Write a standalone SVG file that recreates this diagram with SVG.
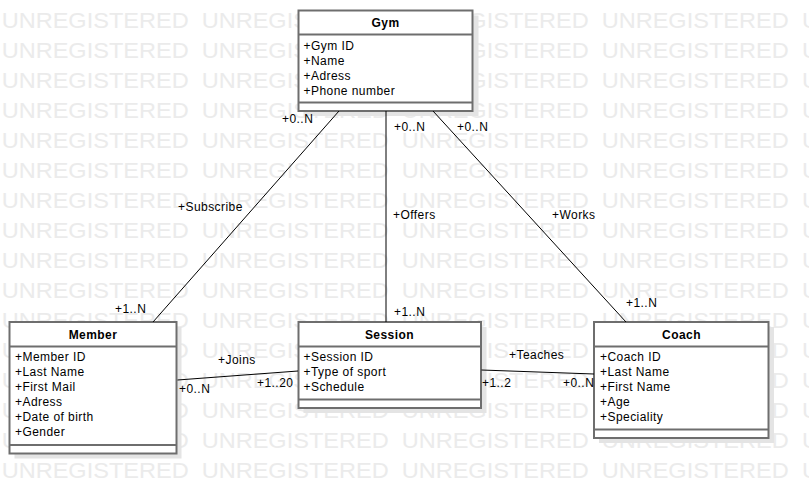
<svg xmlns="http://www.w3.org/2000/svg" xmlns:xlink="http://www.w3.org/1999/xlink" width="809" height="494" viewBox="0 0 809 494">
<style>
.wm{font-family:"Liberation Sans",Arial,sans-serif;font-size:21.5px;fill:#ebebeb}
.t{font-family:"Liberation Sans",Arial,sans-serif;font-size:12px;letter-spacing:0.45px;fill:#000}
.b{font-weight:bold;text-anchor:middle}
.box{fill:#fff;stroke:#6e6e6e;stroke-width:2}
.sh{fill:#e4e4e4}
.div{stroke:#6e6e6e;stroke-width:2}
.con{stroke:#000;stroke-width:1;fill:none}
</style>
<defs>
<text id="wmrow" class="wm" y="28"><tspan x="1.7" textLength="187" lengthAdjust="spacingAndGlyphs">UNREGISTERED</tspan><tspan x="201.7" textLength="187" lengthAdjust="spacingAndGlyphs">UNREGISTERED</tspan><tspan x="401.7" textLength="187" lengthAdjust="spacingAndGlyphs">UNREGISTERED</tspan><tspan x="601.7" textLength="187" lengthAdjust="spacingAndGlyphs">UNREGISTERED</tspan><tspan x="802" textLength="187" lengthAdjust="spacingAndGlyphs">UNREGISTERED</tspan></text>
</defs>
<rect width="809" height="494" fill="#fff"/>
<g id="watermark">
<use xlink:href="#wmrow" y="0"/><use xlink:href="#wmrow" y="30"/><use xlink:href="#wmrow" y="60"/><use xlink:href="#wmrow" y="90"/>
<use xlink:href="#wmrow" y="120"/><use xlink:href="#wmrow" y="150"/><use xlink:href="#wmrow" y="180"/><use xlink:href="#wmrow" y="210"/>
<use xlink:href="#wmrow" y="240"/><use xlink:href="#wmrow" y="270"/><use xlink:href="#wmrow" y="300"/><use xlink:href="#wmrow" y="330"/>
<use xlink:href="#wmrow" y="360"/><use xlink:href="#wmrow" y="390"/><use xlink:href="#wmrow" y="420"/><use xlink:href="#wmrow" y="450"/>
</g>
<g id="gym">
<rect class="sh" x="303.5" y="15.5" width="175" height="100.5"/>
<rect class="box" x="298.5" y="10.5" width="174" height="100.5"/>
<line class="div" x1="298.5" y1="34.5" x2="472.5" y2="34.5"/>
<line class="div" x1="298.5" y1="102.5" x2="472.5" y2="102.5"/>
<text class="t b" x="385.5" y="27">Gym</text>
<text class="t" x="303.5" y="50">+Gym ID</text>
<text class="t" x="303.5" y="65">+Name</text>
<text class="t" x="303.5" y="80">+Adress</text>
<text class="t" x="303.5" y="95">+Phone number</text>
</g>
<g id="member">
<rect class="sh" x="14.5" y="327" width="167" height="131.5"/>
<rect class="box" x="9.5" y="322" width="167" height="131.5"/>
<line class="div" x1="9.5" y1="346.5" x2="176.5" y2="346.5"/>
<line class="div" x1="9.5" y1="445" x2="176.5" y2="445"/>
<text class="t b" x="93" y="338.5">Member</text>
<text class="t" x="15" y="360.5">+Member ID</text>
<text class="t" x="15" y="375.5">+Last Name</text>
<text class="t" x="15" y="390.5">+First Mail</text>
<text class="t" x="15" y="405.5">+Adress</text>
<text class="t" x="15" y="420.5">+Date of birth</text>
<text class="t" x="15" y="435.5">+Gender</text>
</g>
<g id="session">
<rect class="sh" x="303.5" y="327" width="183" height="86"/>
<rect class="box" x="298.5" y="322" width="182.5" height="86"/>
<line class="div" x1="298.5" y1="346.5" x2="481" y2="346.5"/>
<line class="div" x1="298.5" y1="399.5" x2="481" y2="399.5"/>
<text class="t b" x="389.5" y="338.5">Session</text>
<text class="t" x="303.5" y="360.5">+Session ID</text>
<text class="t" x="303.5" y="375.5">+Type of sport</text>
<text class="t" x="303.5" y="390.5">+Schedule</text>
</g>
<g id="coach">
<rect class="sh" x="599" y="327" width="175" height="116"/>
<rect class="box" x="594" y="322" width="174.5" height="116"/>
<line class="div" x1="594" y1="346.5" x2="768.5" y2="346.5"/>
<line class="div" x1="594" y1="429.5" x2="768.5" y2="429.5"/>
<text class="t b" x="681.5" y="338.5">Coach</text>
<text class="t" x="600" y="360.5">+Coach ID</text>
<text class="t" x="600" y="375.5">+Last Name</text>
<text class="t" x="600" y="390.5">+First Name</text>
<text class="t" x="600" y="405.5">+Age</text>
<text class="t" x="600" y="420.5">+Speciality</text>
</g>
<g id="connectors">
<line class="con" x1="339" y1="111" x2="153" y2="322"/>
<line class="con" x1="386" y1="111" x2="386" y2="322"/>
<line class="con" x1="433" y1="111" x2="626" y2="322"/>
<line class="con" x1="177.5" y1="380" x2="298" y2="371"/>
<line class="con" x1="481.5" y1="370" x2="594" y2="374"/>
<text class="t" x="282" y="123">+0..N</text>
<text class="t" x="394" y="131">+0..N</text>
<text class="t" x="457" y="131">+0..N</text>
<text class="t" x="178" y="211">+Subscribe</text>
<text class="t" x="393" y="219">+Offers</text>
<text class="t" x="552" y="219">+Works</text>
<text class="t" x="115" y="313">+1..N</text>
<text class="t" x="394" y="316">+1..N</text>
<text class="t" x="626" y="307">+1..N</text>
<text class="t" x="218" y="364">+Joins</text>
<text class="t" x="179" y="393">+0..N</text>
<text class="t" x="257" y="387">+1..20</text>
<text class="t" x="509" y="359">+Teaches</text>
<text class="t" x="482" y="387">+1..2</text>
<text class="t" x="563" y="387">+0..N</text>
</g>
</svg>
